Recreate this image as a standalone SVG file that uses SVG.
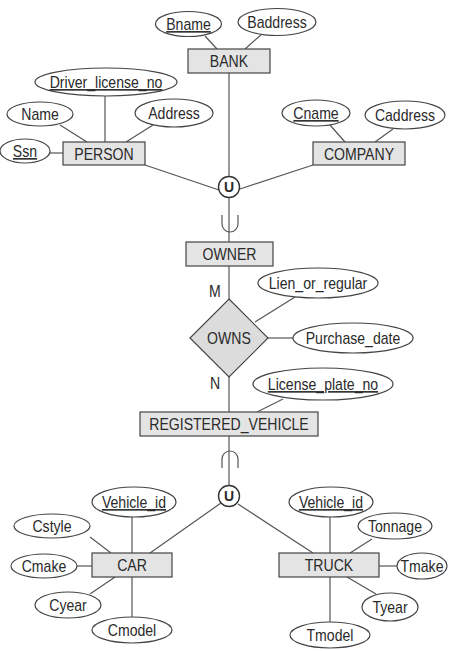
<svg xmlns="http://www.w3.org/2000/svg" width="449" height="651" viewBox="0 0 449 651">
  <style>
    .ent { fill: #e4e4e4; stroke: #444; stroke-width: 1.2; }
    .rel { fill: #dcdcdc; stroke: #444; stroke-width: 1.2; }
    .att { fill: #fff; stroke: #444; stroke-width: 1.2; }
    .uni { fill: #fff; stroke: #333; stroke-width: 1.4; }
    .ln { fill: none; stroke: #555; stroke-width: 1.2; }
    /* narrow sans look: a regular sans squeezed horizontally about each label's centre */
    text { font-family: "Liberation Sans", Arial, sans-serif; font-size: 16px; fill: #2a2a2a; text-anchor: middle;
           transform-box: fill-box; transform-origin: center; transform: scaleX(0.88); }
    .key { text-decoration: underline; }
    .ub { font-weight: bold; font-size: 14px; transform: none; }
  </style>
  <rect width="449" height="651" fill="#fff"/>

  <g id="connectors">
    <!-- BANK -->
    <line class="ln" x1="205" y1="36" x2="217" y2="49"/>
    <line class="ln" x1="262" y1="34" x2="245" y2="49"/>
    <line class="ln" x1="229" y1="73" x2="229" y2="176"/>
    <!-- PERSON -->
    <line class="ln" x1="105" y1="96" x2="105" y2="142"/>
    <line class="ln" x1="60" y1="125" x2="87" y2="142"/>
    <line class="ln" x1="153" y1="125" x2="126" y2="142"/>
    <line class="ln" x1="50" y1="153" x2="63" y2="153"/>
    <line class="ln" x1="145" y1="165" x2="219" y2="190"/>
    <!-- COMPANY -->
    <line class="ln" x1="330" y1="125" x2="345" y2="142"/>
    <line class="ln" x1="393" y1="129" x2="375" y2="142"/>
    <line class="ln" x1="313" y1="165" x2="240" y2="189"/>
    <!-- union to OWNER with subset mark -->
    <line class="ln" x1="229" y1="198" x2="229" y2="242"/>
    <path class="ln" d="M222,215 v9 a8,8 0 0 0 16,0 v-9"/>
    <!-- OWNER - OWNS - REGISTERED_VEHICLE -->
    <line class="ln" x1="229" y1="266" x2="229" y2="299"/>
    <line class="ln" x1="229" y1="377" x2="229" y2="412"/>
    <line class="ln" x1="295" y1="297" x2="255" y2="322"/>
    <line class="ln" x1="268" y1="338" x2="293" y2="338"/>
    <line class="ln" x1="283" y1="399" x2="257" y2="412"/>
    <!-- REGISTERED_VEHICLE to union with subset mark -->
    <line class="ln" x1="229" y1="436" x2="229" y2="485"/>
    <path class="ln" d="M222,468 v-9 a8,8 0 0 1 16,0 v9"/>
    <line class="ln" x1="150" y1="553" x2="221" y2="503"/>
    <line class="ln" x1="238" y1="504" x2="313" y2="553"/>
    <!-- CAR -->
    <line class="ln" x1="132" y1="517" x2="132" y2="553"/>
    <line class="ln" x1="90" y1="537" x2="111" y2="553"/>
    <line class="ln" x1="77" y1="566" x2="92" y2="566"/>
    <line class="ln" x1="115" y1="577" x2="90" y2="594"/>
    <line class="ln" x1="132" y1="577" x2="132" y2="617"/>
    <!-- TRUCK -->
    <line class="ln" x1="330" y1="517" x2="330" y2="553"/>
    <line class="ln" x1="372" y1="539" x2="350" y2="553"/>
    <line class="ln" x1="379" y1="566" x2="397" y2="566"/>
    <line class="ln" x1="347" y1="577" x2="376" y2="594"/>
    <line class="ln" x1="330" y1="577" x2="330" y2="622"/>
  </g>

  <g id="bank">
    <rect class="ent" x="188" y="49" width="82" height="24"/>
    <text x="229" y="67">BANK</text>
  </g>
  <g id="bname">
    <ellipse class="att" cx="188.5" cy="24" rx="33" ry="12.5"/>
    <text class="key" x="188.5" y="30">Bname</text>
  </g>
  <g id="baddress">
    <ellipse class="att" cx="277" cy="22" rx="39" ry="13.5"/>
    <text x="277" y="28">Baddress</text>
  </g>

  <g id="person">
    <rect class="ent" x="63" y="142" width="82" height="23"/>
    <text x="104" y="160">PERSON</text>
  </g>
  <g id="ssn">
    <ellipse class="att" cx="25" cy="151" rx="25" ry="12"/>
    <text class="key" x="25" y="157">Ssn</text>
  </g>
  <g id="name">
    <ellipse class="att" cx="40" cy="114" rx="33" ry="12"/>
    <text x="40" y="120">Name</text>
  </g>
  <g id="address">
    <ellipse class="att" cx="174" cy="113" rx="39" ry="14"/>
    <text x="174" y="119">Address</text>
  </g>
  <g id="driver-license-no">
    <ellipse class="att" cx="106" cy="82" rx="71" ry="14"/>
    <text class="key" x="106" y="88">Driver_license_no</text>
  </g>

  <g id="company">
    <rect class="ent" x="313" y="142" width="92" height="23"/>
    <text x="359" y="160">COMPANY</text>
  </g>
  <g id="cname">
    <ellipse class="att" cx="316" cy="113" rx="34" ry="13"/>
    <text class="key" x="316" y="119">Cname</text>
  </g>
  <g id="caddress">
    <ellipse class="att" cx="405" cy="115" rx="40" ry="14"/>
    <text x="405" y="121">Caddress</text>
  </g>

  <g id="union-owner">
    <circle class="uni" cx="229" cy="187" r="10.5"/>
    <text class="ub" x="229" y="192">U</text>
  </g>

  <g id="owner">
    <rect class="ent" x="186" y="242" width="87" height="24"/>
    <text x="229.5" y="260">OWNER</text>
  </g>

  <g id="owns">
    <polygon class="rel" points="229,299 268,338 229,377 190,338"/>
    <text x="229" y="344">OWNS</text>
    <text x="215" y="297">M</text>
    <text x="215" y="389">N</text>
  </g>
  <g id="lien-or-regular">
    <ellipse class="att" cx="318" cy="283" rx="60" ry="15"/>
    <text x="318" y="289">Lien_or_regular</text>
  </g>
  <g id="purchase-date">
    <ellipse class="att" cx="353" cy="338" rx="60" ry="15"/>
    <text x="353" y="344">Purchase_date</text>
  </g>

  <g id="registered-vehicle">
    <rect class="ent" x="140" y="412" width="178" height="24"/>
    <text x="229" y="430">REGISTERED_VEHICLE</text>
  </g>
  <g id="license-plate-no">
    <ellipse class="att" cx="323" cy="384" rx="70" ry="16"/>
    <text class="key" x="323" y="390">License_plate_no</text>
  </g>

  <g id="union-vehicle">
    <circle class="uni" cx="229" cy="496" r="10.5"/>
    <text class="ub" x="229" y="501">U</text>
  </g>

  <g id="car">
    <rect class="ent" x="92" y="553" width="80" height="24"/>
    <text x="132" y="571">CAR</text>
  </g>
  <g id="car-vehicle-id">
    <ellipse class="att" cx="134" cy="502" rx="42" ry="15"/>
    <text class="key" x="134" y="508">Vehicle_id</text>
  </g>
  <g id="cstyle">
    <ellipse class="att" cx="52" cy="526" rx="38" ry="12"/>
    <text x="52" y="532">Cstyle</text>
  </g>
  <g id="cmake">
    <ellipse class="att" cx="44" cy="566" rx="33" ry="12"/>
    <text x="44" y="572">Cmake</text>
  </g>
  <g id="cyear">
    <ellipse class="att" cx="68" cy="605" rx="33" ry="13"/>
    <text x="68" y="611">Cyear</text>
  </g>
  <g id="cmodel">
    <ellipse class="att" cx="132" cy="630" rx="40" ry="13"/>
    <text x="132" y="636">Cmodel</text>
  </g>

  <g id="truck">
    <rect class="ent" x="279" y="553" width="100" height="24"/>
    <text x="329" y="571">TRUCK</text>
  </g>
  <g id="truck-vehicle-id">
    <ellipse class="att" cx="331" cy="502" rx="42" ry="15"/>
    <text class="key" x="331" y="508">Vehicle_id</text>
  </g>
  <g id="tonnage">
    <ellipse class="att" cx="395" cy="526" rx="37" ry="13"/>
    <text x="395" y="532">Tonnage</text>
  </g>
  <g id="tmake">
    <ellipse class="att" cx="422" cy="566" rx="25" ry="13"/>
    <text x="422" y="572">Tmake</text>
  </g>
  <g id="tyear">
    <ellipse class="att" cx="390" cy="607" rx="28" ry="14"/>
    <text x="390" y="613">Tyear</text>
  </g>
  <g id="tmodel">
    <ellipse class="att" cx="330" cy="635" rx="40" ry="13"/>
    <text x="330" y="641">Tmodel</text>
  </g>
</svg>
